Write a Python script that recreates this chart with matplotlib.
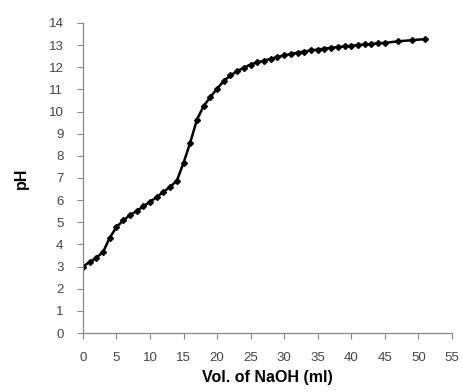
import matplotlib
matplotlib.use("Agg")
import matplotlib.pyplot as plt

plt.rcParams["font.family"] = ["Liberation Sans", "DejaVu Sans"]

# Titration data
vol_naoh = [0, 1, 2, 3, 4, 5, 6, 7, 8, 9, 10, 11, 12, 13, 14, 15, 16, 17, 18,
            19, 20, 21, 22, 23, 24, 25, 26, 27, 28, 29, 30, 31, 32, 33, 34,
            35, 36, 37, 38, 39, 40, 41, 42, 43, 44, 45, 47, 49, 51]
ph = [3.0, 3.2, 3.4, 3.65, 4.3, 4.78, 5.08, 5.32, 5.5, 5.72, 5.92, 6.14, 6.37,
      6.6, 6.87, 7.68, 8.6, 9.63, 10.25, 10.65, 11.03, 11.38, 11.63, 11.82,
      11.98, 12.12, 12.22, 12.3, 12.38, 12.46, 12.53, 12.6, 12.66, 12.71,
      12.76, 12.8, 12.84, 12.88, 12.91, 12.94, 12.97, 13.0, 13.03, 13.05,
      13.08, 13.1, 13.17, 13.22, 13.27]

x_ticks = list(range(0, 56, 5))
y_ticks = list(range(0, 15))

fig = plt.figure(figsize=(4.63, 3.92), dpi=100)
ax = fig.add_axes([0.179, 0.1505, 0.797, 0.791])

ax.plot(vol_naoh, ph, color="black", linewidth=1.8, marker="D",
        markersize=3.0, markerfacecolor="black", markeredgecolor="black")

ax.set_xlim(0, 55)
ax.set_ylim(0, 14)
ax.set_xticks(x_ticks)
ax.set_yticks(y_ticks)

for side in ("top", "right"):
    ax.spines[side].set_visible(False)
for side in ("left", "bottom"):
    ax.spines[side].set_color("#888888")
    ax.spines[side].set_linewidth(0.9)

ax.tick_params(axis="both", colors="#888888", labelcolor="#444444",
               labelsize=9.5, length=4, width=0.8, direction="out")
ax.tick_params(axis="x", pad=10)
ax.tick_params(axis="y", pad=10)

ax.set_xlabel("Vol. of NaOH (ml)", fontsize=11.5, fontweight="bold",
              labelpad=4)
ax.set_ylabel("pH", fontsize=11.5, fontweight="bold", labelpad=14)

fig.savefig("out.png", dpi=100)
